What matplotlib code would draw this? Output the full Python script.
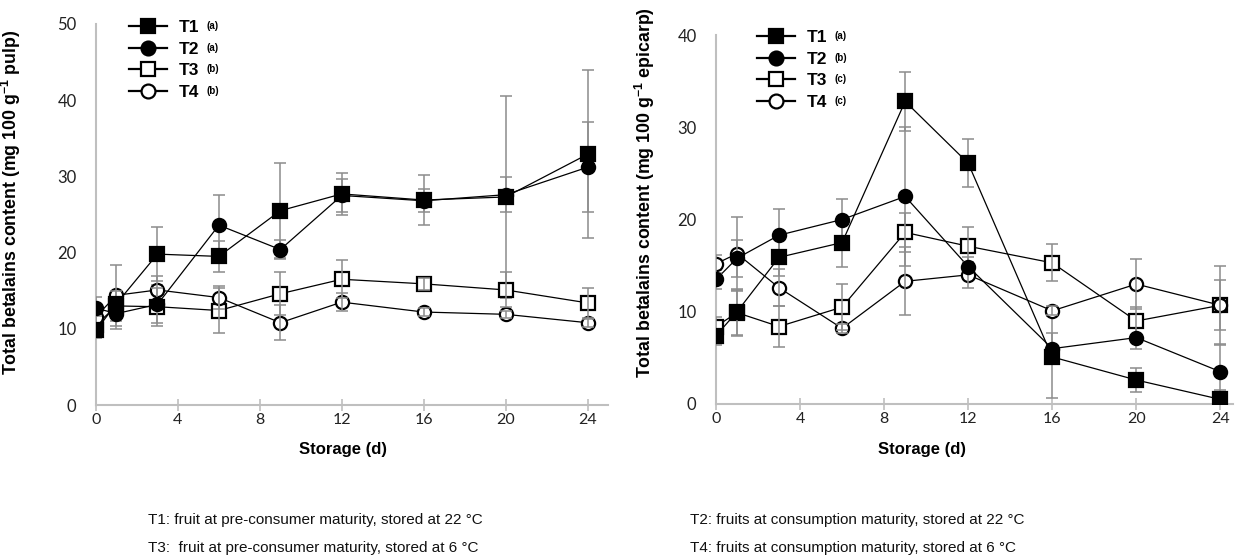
import matplotlib
matplotlib.use("Agg")
import matplotlib.pyplot as plt
from matplotlib.lines import Line2D

plt.rcParams['mathtext.fontset'] = 'custom'
plt.rcParams['mathtext.rm'] = 'Liberation Sans'
plt.rcParams['mathtext.bf'] = 'Liberation Sans:bold'

days = [0, 1, 3, 6, 9, 12, 16, 20, 24]
series = ['T1', 'T2', 'T3', 'T4']

# pulp (left panel)
pulp_t1 = [9.8, 13.3, 19.8, 19.5, 25.5, 27.7, 26.9, 27.3, 32.9]
pulp_t2 = [12.7, 12.0, 13.2, 23.6, 20.4, 27.5, 26.8, 27.6, 31.2]
pulp_t3 = [10.5, 13.0, 12.9, 12.4, 14.6, 16.5, 15.9, 15.1, 13.4]
pulp_t4 = [11.6, 14.4, 15.1, 14.1, 10.8, 13.5, 12.2, 11.9, 10.8]
pulp_e1 = [1.0, 1.5, 3.5, 2.0, 6.2, 2.8, 3.3, 13.2, 11.0]
pulp_e2 = [1.5, 2.0, 2.5, 4.0, 1.2, 2.2, 1.5, 2.3, 5.9]
pulp_e3 = [1.2, 2.0, 2.5, 3.0, 2.8, 2.5, 0.8, 2.3, 2.0]
pulp_e4 = [1.0, 4.0, 1.8, 1.5, 2.3, 1.2, 0.5, 0.5, 0.5]
pulp_sig = ['(a)', '(a)', '(b)', '(b)']

# epicarp (right panel)
epi_t1 = [7.4, 10.0, 15.9, 17.5, 32.8, 26.1, 5.1, 2.6, 0.5]
epi_t2 = [13.5, 15.8, 18.3, 20.0, 22.5, 14.9, 6.0, 7.2, 3.5]
epi_t3 = [8.4, 9.9, 8.4, 10.5, 18.6, 17.1, 15.3, 9.0, 10.7]
epi_t4 = [15.2, 16.3, 12.6, 8.2, 13.3, 14.0, 10.1, 13.0, 10.7]
epi_e1 = [1.0, 2.5, 2.0, 2.6, 3.2, 2.6, 4.4, 1.3, 1.0]
epi_e2 = [1.0, 2.0, 2.8, 2.2, 7.5, 1.0, 1.7, 1.2, 3.0]
epi_e3 = [1.0, 2.5, 2.2, 2.5, 2.1, 2.1, 2.0, 1.5, 4.3]
epi_e4 = [1.0, 4.0, 2.0, 0.5, 3.7, 1.4, 0.5, 2.7, 2.7]
epi_sig = ['(a)', '(b)', '(c)', '(c)']

notes_left = ["T1: fruit at pre-consumer maturity, stored at 22 \u00b0C",
              "T3:  fruit at pre-consumer maturity, stored at 6 \u00b0C"]
notes_right = ["T2: fruits at consumption maturity, stored at 22 \u00b0C",
               "T4: fruits at consumption maturity, stored at 6 \u00b0C"]

markers = ['s', 'o', 's', 'o']
faces = ['black', 'black', 'white', 'white']
W, H = 1235, 560

fig = plt.figure(figsize=(W / 100, H / 100), dpi=100)
ax1 = fig.add_axes([96 / W, 1 - 405 / H, 512 / W, 381 / H])
ax2 = fig.add_axes([716 / W, 1 - 404 / H, 517 / W, 369 / H])


def draw_panel(ax, vals, errs, ymax, xmax, ylabel, lab_xy, xlab_xy):
    for i, (v, e) in enumerate(zip(vals, errs)):
        ax.plot(days, v, color='black', lw=0.9, zorder=2)
        ax.errorbar(days, v, yerr=e, fmt='none', ecolor='#8c8c8c', elinewidth=1.1,
                    capsize=4.5, capthick=1.1, zorder=4 if faces[i] == 'white' else 3)
        ax.plot(days, v, ls='none', marker=markers[i], ms=9.5, mfc=faces[i],
                mec='black', mew=1.6, zorder=3 if faces[i] == 'white' else 5)
    ax.set_xlim(0, xmax)
    ax.set_ylim(0, ymax)
    ax.set_xticks(range(0, 25, 4))
    ax.set_yticks(range(0, ymax + 1, 10))
    for s in ['top', 'right']:
        ax.spines[s].set_visible(False)
    for s in ['left', 'bottom']:
        ax.spines[s].set_color('#bfbfbf')
        ax.spines[s].set_linewidth(1.5)
    ax.tick_params(axis='x', direction='inout', length=8, width=1.2, color='#bfbfbf',
                   labelsize=11.5, labelcolor='#222222', pad=2)
    ax.tick_params(axis='y', length=0, labelsize=12, labelcolor='#222222', pad=14)
    for t in ax.get_xticklabels() + ax.get_yticklabels():
        t.set_fontfamily('Lato')
    ax.set_ylabel(ylabel, fontsize=12.8, fontweight='bold', family='Liberation Sans')
    ax.yaxis.set_label_coords(*lab_xy)
    ax.set_xlabel('Storage (d)', fontsize=12, fontweight='bold', family='Liberation Sans')
    ax.xaxis.set_label_coords(*xlab_xy)


draw_panel(ax1, [pulp_t1, pulp_t2, pulp_t3, pulp_t4], [pulp_e1, pulp_e2, pulp_e3, pulp_e4],
           50, 25.0, r'Total betalains content (mg 100 g$^{\mathbf{-1}}$ pulp)',
           (-0.143, 0.533), (0.482, -0.097))
draw_panel(ax2, [epi_t1, epi_t2, epi_t3, epi_t4], [epi_e1, epi_e2, epi_e3, epi_e4],
           40, 24.6, r'Total betalains content (mg 100 g$^{\mathbf{-1}}$ epicarp)',
           (-0.114, 0.572), (0.398, -0.103))

handles = [Line2D([], [], color='black', lw=1.6, marker=markers[i], ms=10,
                  mfc=faces[i], mec='black', mew=1.6) for i in range(4)]
legs = []
for anchor, sig in [((120 / W, 1 - 11 / H), pulp_sig), ((748 / W, 1 - 21 / H), epi_sig)]:
    leg = fig.legend(handles, series, loc='upper left', bbox_to_anchor=anchor,
                     frameon=False, borderpad=0, handlelength=2.2, handletextpad=0.7,
                     labelspacing=0.38, prop={'family': 'Liberation Sans', 'weight': 'bold', 'size': 12.5})
    legs.append((leg, sig))

fig.canvas.draw()
renderer = fig.canvas.get_renderer()
for leg, sig in legs:
    for t, s in zip(leg.get_texts(), sig):
        bb = t.get_window_extent(renderer)
        fig.text((bb.x1 + 7) / W, (bb.y0 + bb.y1) / 2 / H + 1.5 / H, s, fontsize=7,
                 fontweight='bold', family='Liberation Sans', va='center', ha='left')

note_font = ['Liberation Sans Narrow', 'Liberation Sans']
for j, (a, b) in enumerate(zip(notes_left, notes_right)):
    y = 1 - (520 + 28 * j) / H
    fig.text(148 / W, y, a, fontsize=11, family=note_font, va='center', color='#111111')
    fig.text(690 / W, y, b, fontsize=11, family=note_font, va='center', color='#111111')

fig.savefig('out.png', dpi=100)
